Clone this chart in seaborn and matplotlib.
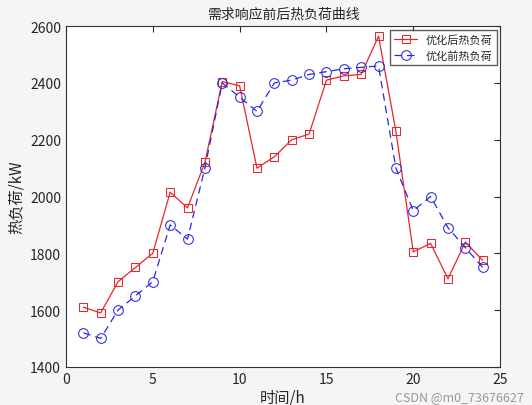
import matplotlib
matplotlib.use("Agg")
import matplotlib.pyplot as plt
import seaborn as sns
import pandas as pd

hours = list(range(1, 25))
after = [1610,1590,1700,1750,1800,2015,1960,2120,2405,2390,2100,2140,2200,2220,2410,2425,2430,2565,2230,1805,1835,1710,1840,1775]
before = [1520,1500,1600,1650,1700,1900,1850,2100,2400,2350,2300,2400,2410,2430,2440,2450,2455,2460,2100,1950,2000,1890,1820,1750]

sns.set_style("white")
plt.rcParams['font.family'] = ['Noto Sans CJK SC', 'DejaVu Sans']

df = pd.DataFrame({"h": hours, "after": after, "before": before})
fig = plt.figure(figsize=(5.32, 4.06), dpi=100, facecolor="#f5f5f5")
ax = fig.add_axes([0.124, 0.094, 0.816, 0.839])
sns.lineplot(data=df, x="h", y="after", ax=ax, color="#e8262a", lw=0.9, marker="s",
             markersize=6, markerfacecolor="none", markeredgecolor="#e8262a", label="优化后热负荷")
sns.lineplot(data=df, x="h", y="before", ax=ax, color="#2828e0", lw=0.9, ls=(0, (6, 4)), marker="o",
             markersize=7, markerfacecolor="none", markeredgecolor="#2828e0", label="优化前热负荷")
ax.set_xlim(0, 25)
ax.set_ylim(1400, 2600)
ax.set_xticks([0, 5, 10, 15, 20, 25])
ax.set_yticks(range(1400, 2601, 200))
ax.tick_params(direction="in", length=4, labelsize=10, top=True, right=True)
for s in ax.spines.values():
    s.set_color("#333333"); s.set_linewidth(0.8)
ax.set_title("需求响应前后热负荷曲线", fontsize=10)
ax.set_xlabel("时间/h", fontsize=11, labelpad=2)
ax.set_ylabel("热负荷/kW", fontsize=11)
leg = ax.legend(loc="upper right", fontsize=8, frameon=True, fancybox=False, borderaxespad=0.3)
leg.get_frame().set_edgecolor("#333333")
fig.text(0.985, 0.005, "CSDN @m0_73676627", fontsize=9, color="#999999", ha="right", va="bottom")
fig.savefig("out.png", dpi=100, facecolor=fig.get_facecolor())
